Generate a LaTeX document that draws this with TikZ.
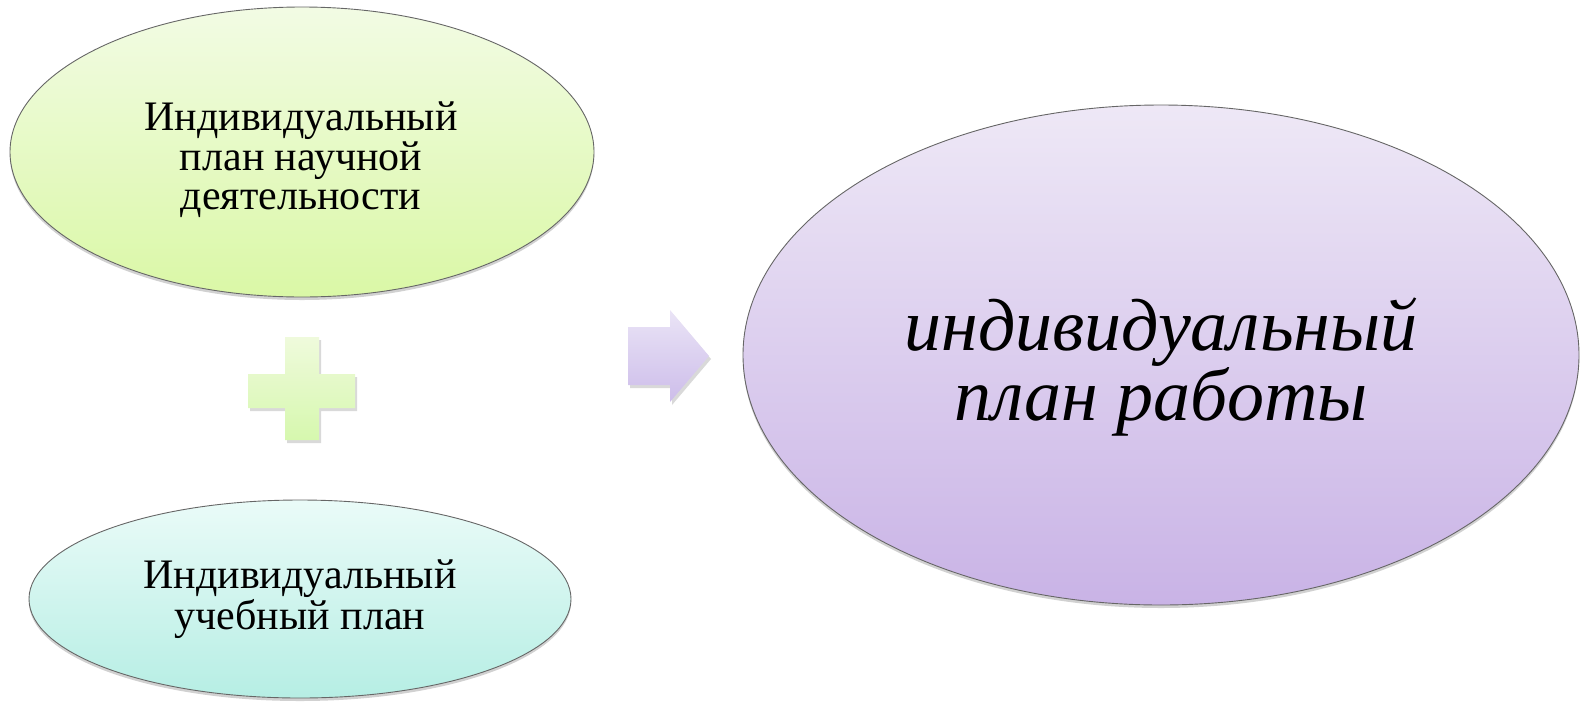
\documentclass[tikz,border=0pt]{standalone}
\usepackage{fontspec}
\setmainfont{Liberation Serif}
\usetikzlibrary{shapes.geometric,shadows,calc}
\definecolor{gTop}{HTML}{F2FBE4}
\definecolor{gBot}{HTML}{DAF8A6}
\definecolor{cTop}{HTML}{EAFBF8}
\definecolor{cBot}{HTML}{B6EEE4}
\definecolor{pTop}{HTML}{EEE8F6}
\definecolor{pBot}{HTML}{C9B3E6}
\definecolor{plTop}{HTML}{EFFADC}
\definecolor{plBot}{HTML}{D6F8AE}
\definecolor{arTop}{HTML}{EAE4F6}
\definecolor{arBot}{HTML}{CDBDEA}
\tikzset{
  blob/.style={ellipse, draw=black!60, line width=0.9pt, inner sep=0pt,
    drop shadow={shadow xshift=0pt, shadow yshift=-3pt, opacity=0.18, fill=black}},
  lbl/.style={align=center, inner sep=0pt, text=black},
  softshadow/.style={drop shadow={shadow xshift=2pt, shadow yshift=-3pt, opacity=0.15, fill=black}}
}
\begin{document}
\begin{tikzpicture}[x=1pt,y=-1pt]
\useasboundingbox (0,0) rectangle (1581,705);
% ellipses
\node[blob, minimum width=584pt, minimum height=290pt, top color=gTop, bottom color=gBot] (sci) at (302,152) {};
\node[blob, minimum width=542pt, minimum height=198pt, top color=cTop, bottom color=cBot] (edu) at (300,599) {};
\node[blob, minimum width=836pt, minimum height=500pt, top color=pTop, bottom color=pBot] (work) at (1161,355) {};
% texts
\node[lbl, font=\fontsize{42}{39.5}\selectfont] (scit) at ($(sci.center)+(-1,8)$) {Индивидуальный\\план научной\\деятельности};
\node[lbl, font=\fontsize{42}{41}\selectfont] (edut) at ($(edu.center)+(0,0)$) {Индивидуальный\\учебный план};
\node[lbl, font=\fontsize{74}{67}\selectfont\itshape] (workt) at ($(work.center)+(0,12)$) {индивидуальный\\план работы};
% plus sign
\path[softshadow, top color=plTop, bottom color=plBot]
  (285,337) -- (319,337) -- (319,374) -- (355,374) -- (355,408) -- (319,408) -- (319,440) -- (285,440) -- (285,408) -- (248,408) -- (248,374) -- (285,374) -- cycle;
% arrow
\path[softshadow, top color=arTop, bottom color=arBot]
  (628,327) -- (670,327) -- (670,310) -- (709,356) -- (670,402) -- (670,385) -- (628,385) -- cycle;
\end{tikzpicture}
\end{document}
